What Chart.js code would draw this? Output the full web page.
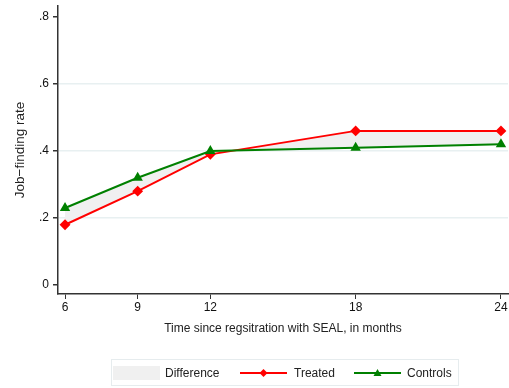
<!DOCTYPE html>
<html>
<head>
<meta charset="utf-8">
<script src="https://cdn.jsdelivr.net/npm/chart.js@4"></script>
<style>
  body { margin: 0; background: #fff; font-family: "Liberation Sans", Arial, sans-serif; overflow: hidden; }
  #wrap { position: relative; width: 509px; height: 388px; overflow: hidden; }
  #legend { position: absolute; left: 111px; top: 359px; width: 348px; height: 27px;
            border: 1px solid #e6ecee; box-sizing: border-box; font-size: 12px; color: #222; }
  .item { position: absolute; top: 0; height: 27px; line-height: 27px; }
  svg { position: absolute; }
</style>
</head>
<body>
<div id="wrap">
  <canvas id="chart" width="514" height="388"></canvas>
  <div id="legend">
    <svg style="left:1px;top:6px" width="47" height="14"><rect x="0" y="0" width="47" height="14" fill="#f0f0f0"/></svg>
    <span class="item" style="left:53px">Difference</span>
    <svg style="left:128px;top:7px" width="47" height="12">
      <line x1="0" y1="6" x2="47" y2="6" stroke="#ff0000" stroke-width="2"/>
      <polygon points="23.5,2 27.5,6 23.5,10 19.5,6" fill="#ff0000"/>
    </svg>
    <span class="item" style="left:182px">Treated</span>
    <svg style="left:242px;top:7px" width="47" height="12">
      <line x1="0" y1="6" x2="47" y2="6" stroke="#008000" stroke-width="2"/>
      <polygon points="23.5,2 27.5,9 19.5,9" fill="#008000"/>
    </svg>
    <span class="item" style="left:295px">Controls</span>
  </div>
</div>
<script>
const months = [6, 9, 12, 18, 24];
const treated = [0.18, 0.28, 0.39, 0.46, 0.46];
const controls = [0.23, 0.32, 0.40, 0.41, 0.42];
const yTicks = [0, 0.2, 0.4, 0.6, 0.8];

const toPoints = vals => months.map((m, i) => ({ x: m, y: vals[i] }));

const fontBase = { family: '"Liberation Sans", Arial, sans-serif', size: 12 };

// canvas is a few px wider than the window so the plot reaches the right edge
new Chart(document.getElementById('chart'), {
  type: 'line',
  data: {
    datasets: [
      {
        label: 'Controls',
        data: toPoints(controls),
        borderColor: '#008000',
        backgroundColor: '#008000',
        borderWidth: 2,
        pointStyle: 'triangle',
        pointRadius: 4,
        tension: 0,
        fill: false
      },
      {
        label: 'Treated',
        data: toPoints(treated),
        borderColor: '#ff0000',
        backgroundColor: '#ff0000',
        borderWidth: 2,
        pointStyle: 'rectRot',
        pointRadius: 4,
        tension: 0,
        fill: { target: 0, above: '#f0f0f0', below: '#f0f0f0' }
      }
    ]
  },
  options: {
    responsive: false,
    animation: false,
    layout: { padding: { left: 0, top: 4, right: 0, bottom: 44 } },
    plugins: { legend: { display: false }, tooltip: { enabled: false } },
    scales: {
      x: {
        type: 'linear',
        min: 5.71,
        max: 24.29,
        afterBuildTicks: s => { s.ticks = months.map(v => ({ value: v })); },
        afterFit: s => { s.height = 50; },
        grid: { drawOnChartArea: false, tickLength: 5, tickColor: '#333' },
        border: { color: '#333', width: 1.5 },
        ticks: { color: '#111', font: fontBase, padding: 1, maxRotation: 0 },
        title: { display: true, text: 'Time since regsitration with SEAL, in months',
                 color: '#222', font: fontBase, padding: { top: 0, bottom: 8 } }
      },
      y: {
        min: -0.0267,
        max: 0.8326,
        afterBuildTicks: s => { s.ticks = yTicks.map(v => ({ value: v })); },
        afterFit: s => { s.width = 58; s.paddingTop = 0; s.paddingBottom = 0; },
        grid: {
          color: c => (c.tick && c.tick.value > 0.01 && c.tick.value < 0.79) ? '#e8f0f1' : 'rgba(0,0,0,0)',
          lineWidth: 1.5,
          tickLength: 5,
          tickColor: '#333'
        },
        border: { color: '#333', width: 1.5 },
        ticks: {
          color: '#111', font: fontBase, padding: 4,
          callback: v => v === 0 ? '0' : String(Math.round(v * 10) / 10).replace(/^0/, '')
        },
        title: { display: true, text: 'Job\u2212finding rate', color: '#222',
                 font: { family: fontBase.family, size: 13.5 },
                 padding: { top: 12, bottom: 0 } }
      }
    }
  }
});
</script>
</body>
</html>
